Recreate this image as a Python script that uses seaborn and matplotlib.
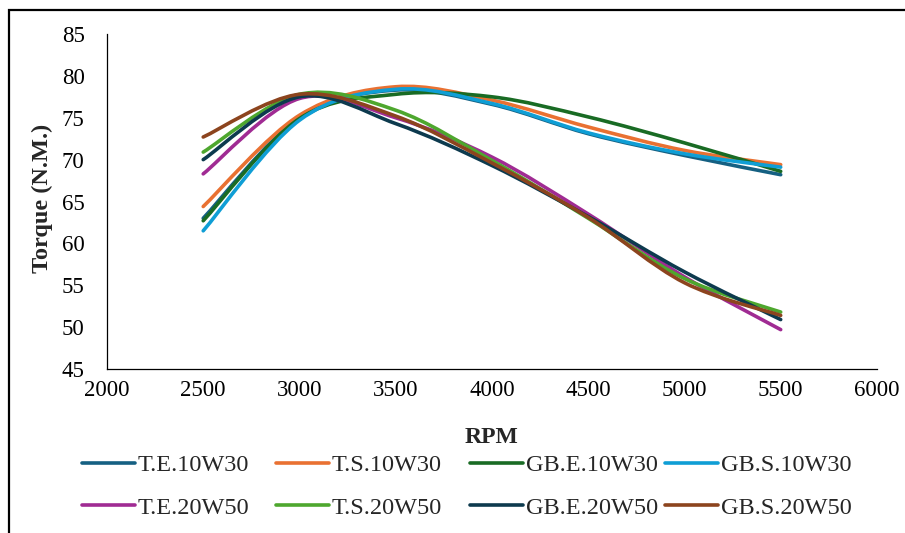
import numpy as np
import pandas as pd
import seaborn as sns
import matplotlib
matplotlib.use('Agg')
import matplotlib.pyplot as plt
from matplotlib.path import Path
from matplotlib.patches import PathPatch, Rectangle
from matplotlib.lines import Line2D

rpm = [2500, 3000, 3500, 4000, 4500, 5000, 5500]

te_10w30 = [63.0, 75.0, 78.3, 76.6, 73.1, 70.5, 68.2]
ts_10w30 = [64.4, 75.3, 78.7, 77.1, 73.9, 71.1, 69.4]
gbe_10w30 = [62.7, 74.9, 77.8, 77.5, 75.1, 72.0, 68.6]
gbs_10w30 = [61.5, 74.7, 78.4, 76.7, 73.2, 70.7, 69.1]
te_20w50 = [68.3, 77.3, 75.0, 70.3, 63.5, 56.0, 49.7]
ts_20w50 = [70.9, 77.8, 75.9, 69.9, 63.0, 55.8, 51.8]
gbe_20w50 = [70.0, 77.5, 74.3, 69.3, 63.2, 56.6, 50.9]
gbs_20w50 = [72.7, 77.8, 75.2, 69.6, 63.1, 55.3, 51.4]

names = ['T.E.10W30', 'T.S.10W30', 'GB.E.10W30', 'GB.S.10W30',
         'T.E.20W50', 'T.S.20W50', 'GB.E.20W50', 'GB.S.20W50']
series = [te_10w30, ts_10w30, gbe_10w30, gbs_10w30,
          te_20w50, ts_20w50, gbe_20w50, gbs_20w50]
colors = ['#156082', '#E97132', '#196B24', '#0F9ED5',
          '#A02B93', '#4EA72E', '#0D3A4E', '#8C441E']

rows = []
for n, s in zip(names, series):
    for r, v in zip(rpm, s):
        rows.append({'RPM': r, 'Torque': v, 'Series': n})
df = pd.DataFrame(rows)
palette = dict(zip(names, colors))


def smooth_path(x, y):
    # Excel-style smoothed line: Catmull-Rom -> cubic Bezier
    pts = np.column_stack([x, y]).astype(float)
    ext = np.vstack([pts[0], pts, pts[-1]])
    verts = [pts[0]]
    codes = [Path.MOVETO]
    for i in range(1, len(ext) - 2):
        p0, p1, p2, p3 = ext[i - 1], ext[i], ext[i + 1], ext[i + 2]
        verts += [p1 + (p2 - p0) / 6, p2 - (p3 - p1) / 6, p2]
        codes += [Path.CURVE4] * 3
    return Path(verts, codes)


sns.set_theme(style='white')
plt.rcParams['font.family'] = ['Liberation Serif', 'DejaVu Serif']

fig = plt.figure(figsize=(9.05, 5.33), dpi=100)
ax = fig.add_axes([0.1182, 0.3077, 0.8508, 0.6285])

sns.lineplot(data=df, x='RPM', y='Torque', hue='Series', palette=palette,
             linewidth=2.6, legend=False, ax=ax)

for line in list(ax.lines):
    x, y = line.get_data()
    ax.add_patch(PathPatch(smooth_path(x, y), facecolor='none',
                           edgecolor=line.get_color(), lw=2.6,
                           capstyle='round', joinstyle='round'))
    line.set_visible(False)

ax.set_xlim(2000, 6000)
ax.set_ylim(45, 85)
ax.set_xticks(range(2000, 6001, 500))
ax.set_yticks(range(45, 86, 5))
ax.tick_params(axis='both', length=0, labelsize=16.5, colors='black')
ax.tick_params(axis='y', pad=16)
ax.tick_params(axis='x', pad=8)
for side in ['top', 'right']:
    ax.spines[side].set_visible(False)
for side in ['left', 'bottom']:
    ax.spines[side].set_color('black')
    ax.spines[side].set_linewidth(0.9)
ax.grid(False)

ax.set_xlabel('RPM', fontsize=17, fontweight='bold')
ax.set_ylabel('Torque (N.M.)', fontsize=17.5, fontweight='bold')
ax.xaxis.set_label_coords(0.5, -0.172)
ax.yaxis.set_label_coords(-0.07, 0.51)

# legend: 4 fixed-width columns, 2 rows
col_x = [82, 276, 470, 665]
for c in range(4):
    handles = [Line2D([], [], color=colors[c], lw=2.6),
               Line2D([], [], color=colors[c + 4], lw=2.6)]
    fig.legend(handles, [names[c], names[c + 4]], loc='upper left',
               bbox_to_anchor=(col_x[c] / 905, 1 - 454 / 533),
               frameon=False, fontsize=17.5, handlelength=2.2,
               handletextpad=0.1, labelspacing=0.85, borderpad=0,
               borderaxespad=0)

fig.patches.append(Rectangle((9 / 905, -0.1), 1.2, 1 - 10 / 533 + 0.1,
                             transform=fig.transFigure, fill=False,
                             edgecolor='black', lw=1.6))

fig.savefig('out.png', dpi=100)
